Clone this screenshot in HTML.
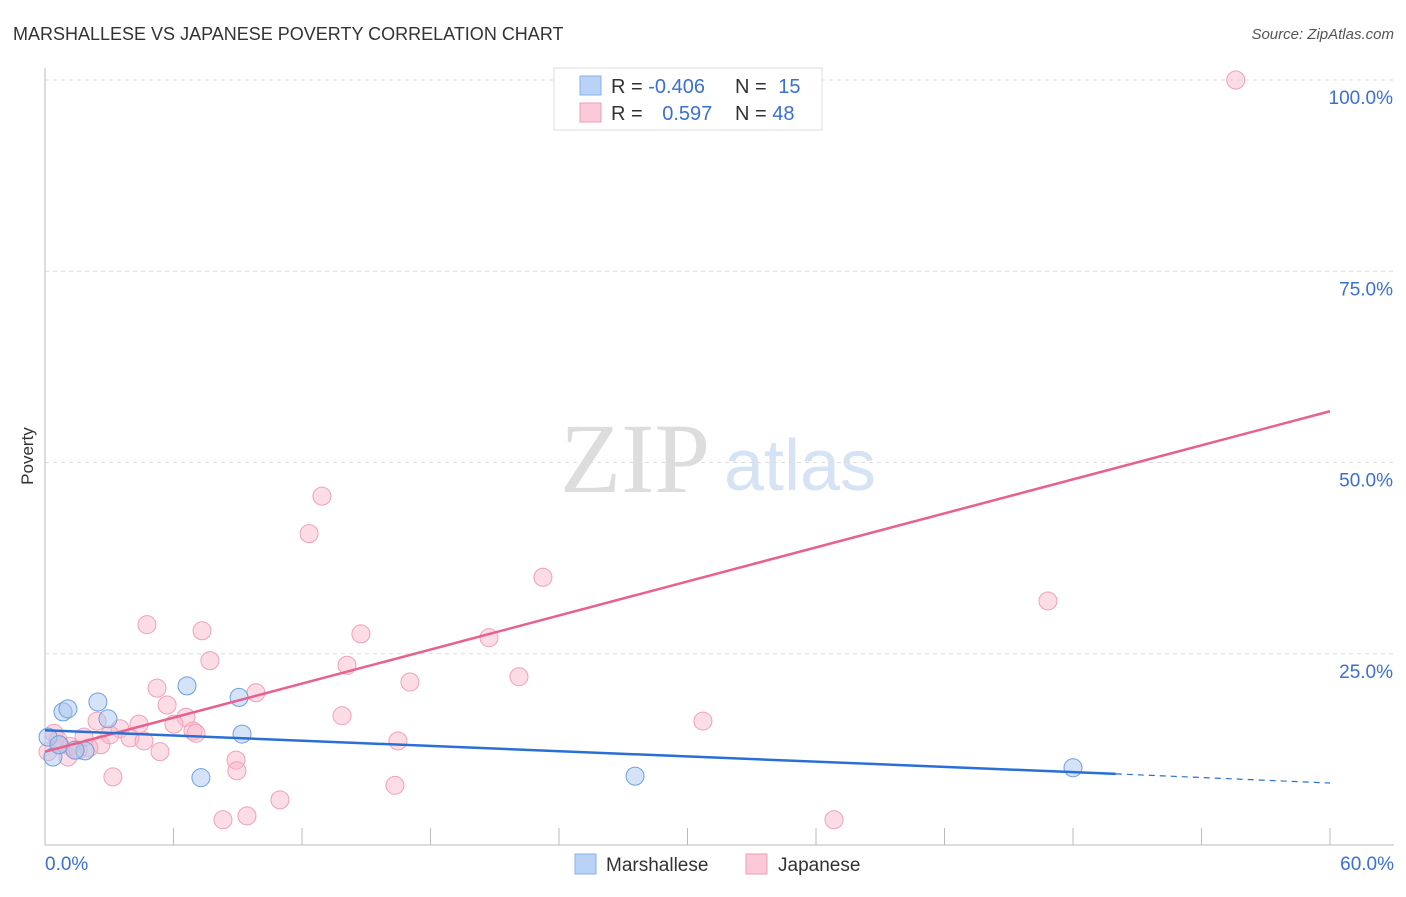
<!DOCTYPE html>
<html><head><meta charset="utf-8"><style>
body{margin:0;background:#fff;font-family:"Liberation Sans",sans-serif}
svg text{font-family:"Liberation Sans",sans-serif}
</style></head><body>
<svg id="chart" width="1406" height="892" xmlns="http://www.w3.org/2000/svg">
<text x="13" y="40" font-size="18" fill="#333">MARSHALLESE VS JAPANESE POVERTY CORRELATION CHART</text>
<text x="1394" y="39" font-size="15" fill="#555" text-anchor="end" font-style="italic">Source: ZipAtlas.com</text>
<text x="33" y="456" font-size="17" fill="#333" transform="rotate(-90 33 456)" text-anchor="middle">Poverty</text>
<g><text x="635" y="492" font-size="100" fill="#ddd" style="font-family:'Liberation Serif',serif" text-anchor="middle">ZIP</text><text x="800" y="490" font-size="72" fill="#d6e3f5" text-anchor="middle">atlas</text></g>
<g id="grid"></g><g id="axes"></g><g id="pts"></g><g id="lines"></g>
<g>
<rect x="554" y="68" width="268" height="62" fill="#fff" stroke="#ddd"/>
<rect x="580" y="76" width="21" height="19" fill="#b8d3f5" stroke="#88b0e6"/>
<rect x="580" y="103" width="21" height="19" fill="#fcc9d8" stroke="#f09ab5"/>
<text x="611" y="93" font-size="20" fill="#333">R = <tspan fill="#3a70d0">-0.406</tspan></text>
<text x="735" y="93" font-size="20" fill="#333">N = <tspan fill="#3a70d0" dx="6">15</tspan></text>
<text x="611" y="120" font-size="20" fill="#333">R = <tspan fill="#3a70d0" dx="14">0.597</tspan></text>
<text x="735" y="120" font-size="20" fill="#333">N = <tspan fill="#3a70d0">48</tspan></text>
</g>
<g>
<rect x="575" y="854" width="21" height="20" fill="#b8d3f5" stroke="#88b0e6"/>
<text x="606" y="871" font-size="19" fill="#333">Marshallese</text>
<rect x="746" y="854" width="21" height="20" fill="#fcc9d8" stroke="#f09ab5"/>
<text x="778" y="871" font-size="19" fill="#333">Japanese</text>
</g>
</svg>
<script>
const yTicks=[25,50,75,100];
const yTickLabels=["25.0%","50.0%","75.0%","100.0%"];
const blueX=[0.14,0.37,0.84,1.07,1.87,2.47,2.94,6.63,7.28,9.06,9.2,27.55,48.0,0.65,1.4];
const blueY=[14.1,11.5,17.4,17.8,12.3,18.7,16.5,20.8,8.8,19.3,14.5,9.0,10.1,13.1,12.4];
const pinkX=[55.6,12.93,12.33,23.25,46.83,4.76,7.33,14.75,20.73,7.70,14.10,22.13,5.23,17.04,9.85,5.70,13.87,6.58,30.72,2.43,4.39,6.02,3.50,6.91,7.05,3.97,4.62,1.82,2.61,0.70,5.37,8.92,8.96,3.17,16.34,10.97,9.43,8.31,36.84,0.42,0.61,1.07,1.17,1.54,0.14,16.48,3.03,2.05];
const pinkY=[100,45.6,40.7,35.0,31.9,28.8,28.0,27.6,27.1,24.1,23.5,22.0,20.5,21.3,19.9,18.3,16.9,16.7,16.2,16.2,15.8,15.8,15.2,14.9,14.6,14.0,13.6,14.1,13.1,13.1,12.2,11.1,9.7,8.9,7.8,5.9,3.8,3.3,3.3,14.6,13.7,11.5,12.9,12.4,12.2,13.6,14.4,12.7];
const blueTrend=[15.0,9.3,8.1];
const blueTrendX=[0,50,60];
const pinkTrend=[12.2,56.7];
const pinkTrendX=[0,60];
const NS="http://www.w3.org/2000/svg";
const X=v=>45+v/60*1285, Y=v=>845-v*7.65;
function mk(tag,at,parent){const e=document.createElementNS(NS,tag);for(const k in at)e.setAttribute(k,at[k]);document.getElementById(parent).appendChild(e);return e;}
yTicks.forEach((t,i)=>{
 const l=mk('line',{x1:45,x2:1394,y1:Y(t),y2:Y(t),stroke:'#ddd','stroke-dasharray':'4,4'},'grid');
 
 
 const tx=mk('text',{x:1393,y:Y(t)+24,'font-size':19,fill:'#3a70d0','text-anchor':'end'},'grid');
 tx.textContent=yTickLabels[i];
 
 
});
const ax=mk('line',{x1:45,x2:45,y1:68,y2:845,stroke:'#bbb'},'axes');


const bx=mk('line',{x1:45,x2:1394,y1:845,y2:845,stroke:'#bbb'},'axes');


for(let i=0;i<=10;i++){const t=mk('line',{x1:X(i*6),x2:X(i*6),y1:828,y2:845,stroke:'#bbb'},'axes');
 
 }
[["0.0%",45,'start'],["60.0%",1394,'end']].forEach(d=>{const t=mk('text',{x:d[1],y:870,'font-size':19,fill:'#3a70d0','text-anchor':d[2]},'axes');t.textContent=d[0];
 
 });
pinkX.forEach((x,i)=>{const c=mk('circle',{cx:X(x),cy:Y(pinkY[i]),r:9,fill:'rgba(248,180,200,0.45)',stroke:'#f0a0ba','stroke-width':1},'pts');
 
 });
blueX.forEach((x,i)=>{const c=mk('circle',{cx:X(x),cy:Y(blueY[i]),r:9,fill:'rgba(170,200,240,0.5)',stroke:'#6f9fe0','stroke-width':1},'pts');
 
 });
const pl=mk('line',{x1:X(pinkTrendX[0]),y1:Y(pinkTrend[0]),x2:X(pinkTrendX[1]),y2:Y(pinkTrend[1]),stroke:'#e8608e','stroke-width':2.5},'lines');


const bl=mk('line',{x1:X(blueTrendX[0]),y1:Y(blueTrend[0]),x2:X(blueTrendX[1]),y2:Y(blueTrend[1]),stroke:'#2a6fd6','stroke-width':2.5},'lines');


const bd=mk('line',{x1:X(blueTrendX[1]),y1:Y(blueTrend[1]),x2:X(blueTrendX[2]),y2:Y(blueTrend[2]),stroke:'#2a6fd6','stroke-width':1.2,'stroke-dasharray':'6,5'},'lines');


</script>
</body></html>
